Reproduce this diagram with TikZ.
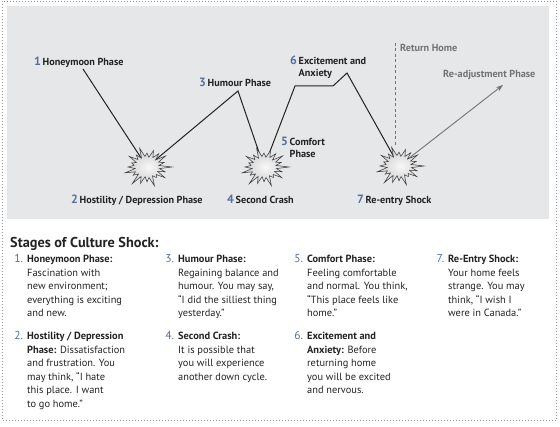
\documentclass[tikz,border=0pt]{standalone}
\usepackage{fontspec}
\setmainfont{PT Sans}
\usetikzlibrary{arrows.meta}

\definecolor{panelgrey}{RGB}{230,231,233}
\definecolor{framegrey}{RGB}{150,150,150}
\definecolor{inkgrey}{RGB}{35,35,35}
\definecolor{softgrey}{RGB}{115,115,115}
\definecolor{numblue}{RGB}{85,110,155}
\definecolor{burstline}{RGB}{55,55,55}

\newcommand{\phasenum}[1]{{\fontsize{12}{12}\selectfont\color{numblue}#1}\,}
\newcommand{\listnum}[1]{{\fontsize{11.5}{12}\selectfont\color{numblue}#1.}\hspace{4pt}}

\tikzset{
    phase/.style={inner sep=0pt, anchor=base west, text=inkgrey, align=left,
        font=\bfseries\fontsize{10.2}{12.5}\selectfont},
    note/.style={phase, text=softgrey},
    curve/.style={draw=inkgrey, line width=1pt, line join=miter},
    item/.style={inner sep=0pt, anchor=base west, text=inkgrey, align=left,
        font=\fontsize{10.4}{13.5}\selectfont},
    burst/.pic={
        \path[draw=burstline, line width=0.5pt, line join=miter, yscale=0.82,
              inner color=gray!6, outer color=gray!40]
            (0:25) \foreach \a/\r in {9/12.5,18/19,27/12,36/22,45/13,54/16,63/12,
                72/24,81/13,90/18,99/12,108/21,117/13,126/25,135/12,144/17,153/13,
                162/23,171/12,180/19,189/13,198/16,207/12,216/22,225/13,234/18,
                243/12,252/24,261/13,270/17,279/12,288/21,297/13,306/20,315/12,
                324/23,333/13,342/18,351/12} { -- (\a:\r) } -- cycle;
    }
}

\begin{document}
\begin{tikzpicture}[x=1pt, y=-1pt]
    \useasboundingbox (0,0) rectangle (560,427);
    \draw[framegrey, dotted, line width=1pt] (2.5,1.5) rectangle (556,421);
    \fill[panelgrey] (7,6) rectangle (549,219);

    % phase labels of the curve (two-line ones sit on their last line)
    \node[phase] (honey) at (34,66) {\phasenum{1}Honeymoon Phase};
    \node[phase] (humour) at (199,87) {\phasenum{3}Humour Phase};
    \node[phase] (excite) at (290,77) {\phasenum{6}Excitement and\\\hphantom{\phasenum{6}}Anxiety};
    \node[phase] (comfort) at (281,158) {\phasenum{5}Comfort\\\hphantom{\phasenum{5}}Phase};
    \node[phase] (hostile) at (71,204) {\phasenum{2}Hostility / Depression Phase};
    \node[phase] (crash) at (227,204) {\phasenum{4}Second Crash};
    \node[phase] (reentry) at (357,204) {\phasenum{7}Re-entry Shock};
    \node[note] (home) at (400,52) {Return Home};
    \node[note] (readjust) at (443,78) {Re-adjustment Phase};

    % turning points
    \coordinate (start) at (83,69);
    \coordinate (top3) at (238,91);
    \coordinate (flat1) at (295,86);
    \coordinate (flat2) at (333,86);
    \coordinate (top6) at (347,73);
    \coordinate (home1) at (395,43);
    \coordinate (home2) at (395,147);
    \coordinate (tip) at (503,85);
    \coordinate (shock1) at (147,167);
    \coordinate (shock2) at (264,167);
    \coordinate (shock3) at (399,166);

    \draw[curve] (start) -- (shock1) -- (top3) -- (shock2) -- (flat1)
        -- (flat2) -- (top6) -- (shock3);
    \draw[softgrey, line width=0.9pt, dash pattern=on 3pt off 2.5pt] (home1) -- (home2);
    \draw[softgrey, line width=0.9pt, -{Stealth[length=7pt, width=5pt]}] (shock3) -- (tip);

    \pic at (shock1) {burst};
    \pic at (shock2) {burst};
    \pic at (shock3) {burst};

    % list of stages (each node sits on its last line)
    \node[inner sep=0pt, anchor=base west, text=inkgrey,
        font=\bfseries\fontsize{14.3}{16}\selectfont] (title) at (10,248) {Stages of Culture Shock:};
    \node[item] (i1) at (27,317) {\llap{\listnum{1}}\textbf{Honeymoon Phase:}\\Fascination with\\new environment;\\everything is exciting\\and new.};
    \node[item] (i2) at (27,407.5) {\llap{\listnum{2}}\textbf{Hostility / Depression}\\\textbf{Phase:} Dissatisfaction\\and frustration. You\\may think, “I hate\\this place. I want\\to go home.”};
    \node[item] (i3) at (178,317) {\llap{\listnum{3}}\textbf{Humour Phase:}\\Regaining balance and\\humour. You may say,\\“I did the silliest thing\\yesterday.”};
    \node[item] (i4) at (178,380.5) {\llap{\listnum{4}}\textbf{Second Crash:}\\It is possible that\\you will experience\\another down cycle.};
    \node[item] (i5) at (307,317) {\llap{\listnum{5}}\textbf{Comfort Phase:}\\Feeling comfortable\\and normal. You think,\\“This place feels like\\home.”};
    \node[item] (i6) at (307,394) {\llap{\listnum{6}}\textbf{Excitement and}\\\textbf{Anxiety:} Before\\returning home\\you will be excited\\and nervous.};
    \node[item] (i7) at (448,317) {\llap{\listnum{7}}\textbf{Re-Entry Shock:}\\Your home feels\\strange. You may\\think, “I wish I\\were in Canada.”};
\end{tikzpicture}
\end{document}
